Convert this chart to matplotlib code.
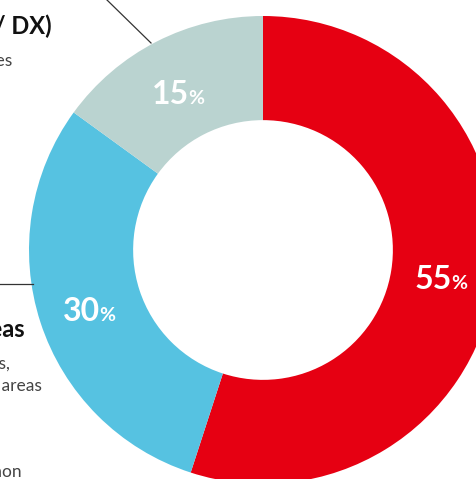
import matplotlib.pyplot as plt

# share of each segment, clockwise from 12 o'clock
labels = ['red', 'blue', 'grey']
shares = [55, 30, 15]
colors = ['#E60012', '#56C2E1', '#BAD3D0']

plt.rcParams['font.family'] = ['Lato', 'DejaVu Sans']

fig = plt.figure(figsize=(4.77, 4.79), dpi=100)
ax = fig.add_axes([0, 0, 1, 1])

cx, cy, r = 263, 229, 234
ax.pie(shares, colors=colors, startangle=90, counterclock=False,
       radius=r, center=(cx, cy), frame=True,
       wedgeprops=dict(width=r * 0.445, linewidth=0))
ax.set_xlim(0, 477)
ax.set_ylim(0, 479)
ax.set_aspect('equal')
ax.axis('off')

# percentage labels
pos = [(415, 190), (63, 158), (152, 375)]
for (x, y), v in zip(pos, shares):
    t = ax.text(x, y, str(v), color='white', fontsize=23, fontweight='bold',
                ha='left', va='baseline')
    fig.canvas.draw()
    bb = t.get_window_extent()
    ax.annotate('%', xy=(bb.x1 - 1, y), xycoords=('figure pixels', 'data'),
                color='white', fontsize=14, fontweight='bold', va='baseline')

# leader lines
ax.plot([107, 151], [479, 436], color='#333333', lw=0.9)
ax.plot([0, 33], [195, 195], color='#333333', lw=0.9)

# side captions (cut off by the frame edge)
ax.text(52, 445, '(AI / DX)', fontsize=17, fontweight='bold', color='#111111',
        ha='right', va='baseline')
ax.text(12, 413, 'Digital services', fontsize=12.5, color='#444444',
        ha='right', va='baseline')
ax.text(25, 142, 'Focus areas', fontsize=17, fontweight='bold', color='#111111',
        ha='right', va='baseline')
ax.text(10, 110, 'Components,', fontsize=12.5, color='#444444',
        ha='right', va='baseline')
ax.text(42, 88, 'and other areas', fontsize=12.5, color='#444444',
        ha='right', va='baseline')
ax.text(22, 2, 'common', fontsize=12.5, color='#444444',
        ha='right', va='baseline')

fig.savefig('out.png', dpi=100)
